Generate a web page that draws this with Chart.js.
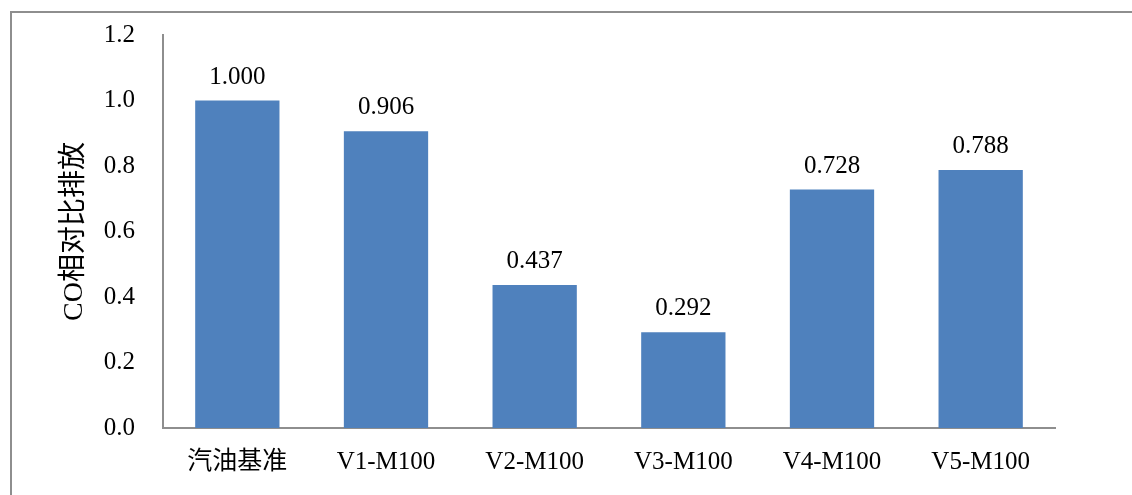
<!DOCTYPE html>
<html>
<head>
<meta charset="utf-8">
<script src="https://cdn.jsdelivr.net/npm/chart.js@4/dist/chart.umd.min.js"></script>
<style>
  html, body { margin: 0; padding: 0; background: #fff; }
  #wrap { position: relative; width: 1132px; height: 495px; overflow: hidden; }
  #frame { position: absolute; left: 10px; top: 11px; width: 1200px; height: 600px;
           border: 2px solid #8e8e8e; box-sizing: border-box; }
  canvas { position: absolute; left: 0; top: 0; }
</style>
</head>
<body>
<div id="wrap">
  <div id="frame"></div>
  <canvas id="c" width="1132" height="495"></canvas>
</div>
<script>
// Fuel cases and their CO emissions relative to the gasoline baseline
const categories = ['汽油基准', 'V1-M100', 'V2-M100', 'V3-M100', 'V4-M100', 'V5-M100'];
const coRelative = [1.000, 0.906, 0.437, 0.292, 0.728, 0.788];
const yTicks = [0.0, 0.2, 0.4, 0.6, 0.8, 1.0, 1.2];
const yTitle = 'CO相对比排放';

const FONT = "'Liberation Serif', 'Times New Roman', 'Noto Sans CJK SC', serif";

// Value labels above each bar
const valueLabels = {
  id: 'valueLabels',
  afterDatasetsDraw(chart) {
    const ctx = chart.ctx;
    const meta = chart.getDatasetMeta(0);
    ctx.save();
    ctx.font = '25px ' + FONT;
    ctx.fillStyle = '#000';
    ctx.textAlign = 'center';
    ctx.textBaseline = 'alphabetic';
    meta.data.forEach((bar, i) => {
      ctx.fillText(coRelative[i].toFixed(3), bar.x, bar.y - 17);
    });
    ctx.restore();
  }
};

new Chart(document.getElementById('c'), {
  type: 'bar',
  data: {
    labels: categories,
    datasets: [{
      data: coRelative,
      backgroundColor: '#4F81BD',
      borderWidth: 0,
      categoryPercentage: 1.0,
      barPercentage: 0.567
    }]
  },
  options: {
    responsive: false,
    animation: false,
    events: [],
    layout: { padding: { top: 35, right: 77, left: 0, bottom: 0 } },
    plugins: { legend: { display: false }, tooltip: { enabled: false } },
    scales: {
      x: {
        grid: { display: false, drawTicks: false },
        border: { display: true, color: '#8e8e8e', width: 2 },
        ticks: { color: '#000', font: { family: FONT, size: 25 }, padding: 19, maxRotation: 0 },
        afterFit(scale) { scale.height = 67; scale.paddingLeft = 0; scale.paddingRight = 0; }
      },
      y: {
        min: 0,
        max: 1.2,
        afterBuildTicks(scale) { scale.ticks = yTicks.map(v => ({ value: v })); },
        grid: { display: false, drawTicks: false },
        border: { display: true, color: '#8e8e8e', width: 2 },
        ticks: {
          color: '#000',
          font: { family: FONT, size: 25 },
          padding: 28,
          callback: v => Number(v).toFixed(1)
        },
        title: {
          display: true,
          text: yTitle,
          color: '#000',
          font: { family: FONT, size: 28 },
          padding: { top: 58, bottom: 0 }
        },
        afterFit(scale) { scale.width = 163; scale.paddingTop = 0; scale.paddingBottom = 0; }
      }
    }
  },
  plugins: [valueLabels]
});
</script>
</body>
</html>
